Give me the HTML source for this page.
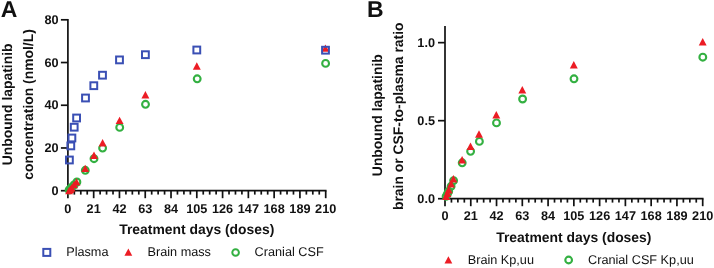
<!DOCTYPE html>
<html><head><meta charset="utf-8"><style>
html,body{margin:0;padding:0;background:#fff;width:714px;height:268px;overflow:hidden}
svg{display:block;filter:blur(0.35px)}
text{font-family:"Liberation Sans",sans-serif;fill:#111;text-rendering:geometricPrecision}
.tk{font-size:12.7px;font-weight:bold}
.at{font-size:13.9px;font-weight:bold}
.pl{font-size:23.0px;font-weight:bold}
.lg{font-size:12.7px}
</style></head><body>
<svg width="714" height="268" viewBox="0 0 714 268">
<text x="0.7" y="17.0" class="pl">A</text>
<text x="367.0" y="17.0" class="pl">B</text>
<line x1="67.9" y1="18.95" x2="67.9" y2="198.20" stroke="#111" stroke-width="1.7"/>
<line x1="67.05" y1="190.7" x2="326.55" y2="190.7" stroke="#111" stroke-width="1.7"/>
<line x1="74.34" y1="190.7" x2="74.34" y2="194.60" stroke="#111" stroke-width="1.7"/>
<line x1="80.79" y1="190.7" x2="80.79" y2="194.60" stroke="#111" stroke-width="1.7"/>
<line x1="87.23" y1="190.7" x2="87.23" y2="194.60" stroke="#111" stroke-width="1.7"/>
<line x1="93.68" y1="190.7" x2="93.68" y2="198.20" stroke="#111" stroke-width="1.7"/>
<line x1="100.12" y1="190.7" x2="100.12" y2="194.60" stroke="#111" stroke-width="1.7"/>
<line x1="106.57" y1="190.7" x2="106.57" y2="194.60" stroke="#111" stroke-width="1.7"/>
<line x1="113.02" y1="190.7" x2="113.02" y2="194.60" stroke="#111" stroke-width="1.7"/>
<line x1="119.46" y1="190.7" x2="119.46" y2="198.20" stroke="#111" stroke-width="1.7"/>
<line x1="125.91" y1="190.7" x2="125.91" y2="194.60" stroke="#111" stroke-width="1.7"/>
<line x1="132.35" y1="190.7" x2="132.35" y2="194.60" stroke="#111" stroke-width="1.7"/>
<line x1="138.79" y1="190.7" x2="138.79" y2="194.60" stroke="#111" stroke-width="1.7"/>
<line x1="145.24" y1="190.7" x2="145.24" y2="198.20" stroke="#111" stroke-width="1.7"/>
<line x1="151.69" y1="190.7" x2="151.69" y2="194.60" stroke="#111" stroke-width="1.7"/>
<line x1="158.13" y1="190.7" x2="158.13" y2="194.60" stroke="#111" stroke-width="1.7"/>
<line x1="164.57" y1="190.7" x2="164.57" y2="194.60" stroke="#111" stroke-width="1.7"/>
<line x1="171.02" y1="190.7" x2="171.02" y2="198.20" stroke="#111" stroke-width="1.7"/>
<line x1="177.46" y1="190.7" x2="177.46" y2="194.60" stroke="#111" stroke-width="1.7"/>
<line x1="183.91" y1="190.7" x2="183.91" y2="194.60" stroke="#111" stroke-width="1.7"/>
<line x1="190.35" y1="190.7" x2="190.35" y2="194.60" stroke="#111" stroke-width="1.7"/>
<line x1="196.80" y1="190.7" x2="196.80" y2="198.20" stroke="#111" stroke-width="1.7"/>
<line x1="203.24" y1="190.7" x2="203.24" y2="194.60" stroke="#111" stroke-width="1.7"/>
<line x1="209.69" y1="190.7" x2="209.69" y2="194.60" stroke="#111" stroke-width="1.7"/>
<line x1="216.13" y1="190.7" x2="216.13" y2="194.60" stroke="#111" stroke-width="1.7"/>
<line x1="222.58" y1="190.7" x2="222.58" y2="198.20" stroke="#111" stroke-width="1.7"/>
<line x1="229.02" y1="190.7" x2="229.02" y2="194.60" stroke="#111" stroke-width="1.7"/>
<line x1="235.47" y1="190.7" x2="235.47" y2="194.60" stroke="#111" stroke-width="1.7"/>
<line x1="241.91" y1="190.7" x2="241.91" y2="194.60" stroke="#111" stroke-width="1.7"/>
<line x1="248.36" y1="190.7" x2="248.36" y2="198.20" stroke="#111" stroke-width="1.7"/>
<line x1="254.80" y1="190.7" x2="254.80" y2="194.60" stroke="#111" stroke-width="1.7"/>
<line x1="261.25" y1="190.7" x2="261.25" y2="194.60" stroke="#111" stroke-width="1.7"/>
<line x1="267.69" y1="190.7" x2="267.69" y2="194.60" stroke="#111" stroke-width="1.7"/>
<line x1="274.14" y1="190.7" x2="274.14" y2="198.20" stroke="#111" stroke-width="1.7"/>
<line x1="280.58" y1="190.7" x2="280.58" y2="194.60" stroke="#111" stroke-width="1.7"/>
<line x1="287.03" y1="190.7" x2="287.03" y2="194.60" stroke="#111" stroke-width="1.7"/>
<line x1="293.47" y1="190.7" x2="293.47" y2="194.60" stroke="#111" stroke-width="1.7"/>
<line x1="299.92" y1="190.7" x2="299.92" y2="198.20" stroke="#111" stroke-width="1.7"/>
<line x1="306.37" y1="190.7" x2="306.37" y2="194.60" stroke="#111" stroke-width="1.7"/>
<line x1="312.81" y1="190.7" x2="312.81" y2="194.60" stroke="#111" stroke-width="1.7"/>
<line x1="319.25" y1="190.7" x2="319.25" y2="194.60" stroke="#111" stroke-width="1.7"/>
<line x1="325.70" y1="190.7" x2="325.70" y2="198.20" stroke="#111" stroke-width="1.7"/>
<text x="67.90" y="212.7" class="tk" text-anchor="middle">0</text>
<text x="93.68" y="212.7" class="tk" text-anchor="middle">21</text>
<text x="119.46" y="212.7" class="tk" text-anchor="middle">42</text>
<text x="145.24" y="212.7" class="tk" text-anchor="middle">63</text>
<text x="171.02" y="212.7" class="tk" text-anchor="middle">84</text>
<text x="196.80" y="212.7" class="tk" text-anchor="middle">105</text>
<text x="222.58" y="212.7" class="tk" text-anchor="middle">126</text>
<text x="248.36" y="212.7" class="tk" text-anchor="middle">147</text>
<text x="274.14" y="212.7" class="tk" text-anchor="middle">168</text>
<text x="299.92" y="212.7" class="tk" text-anchor="middle">189</text>
<text x="325.70" y="212.7" class="tk" text-anchor="middle">210</text>
<line x1="60.90" y1="190.70" x2="67.9" y2="190.70" stroke="#111" stroke-width="1.7"/>
<text x="58.6" y="194.80" class="tk" text-anchor="end">0</text>
<line x1="60.90" y1="147.97" x2="67.9" y2="147.97" stroke="#111" stroke-width="1.7"/>
<text x="58.6" y="152.07" class="tk" text-anchor="end">20</text>
<line x1="60.90" y1="105.25" x2="67.9" y2="105.25" stroke="#111" stroke-width="1.7"/>
<text x="58.6" y="109.35" class="tk" text-anchor="end">40</text>
<line x1="60.90" y1="62.53" x2="67.9" y2="62.53" stroke="#111" stroke-width="1.7"/>
<text x="58.6" y="66.62" class="tk" text-anchor="end">60</text>
<line x1="60.90" y1="19.80" x2="67.9" y2="19.80" stroke="#111" stroke-width="1.7"/>
<text x="58.6" y="23.90" class="tk" text-anchor="end">80</text>
<line x1="445.0" y1="25.95" x2="445.0" y2="206.20" stroke="#111" stroke-width="1.7"/>
<line x1="444.15" y1="198.7" x2="703.55" y2="198.7" stroke="#111" stroke-width="1.7"/>
<line x1="451.44" y1="198.7" x2="451.44" y2="202.60" stroke="#111" stroke-width="1.7"/>
<line x1="457.88" y1="198.7" x2="457.88" y2="202.60" stroke="#111" stroke-width="1.7"/>
<line x1="464.33" y1="198.7" x2="464.33" y2="202.60" stroke="#111" stroke-width="1.7"/>
<line x1="470.77" y1="198.7" x2="470.77" y2="206.20" stroke="#111" stroke-width="1.7"/>
<line x1="477.21" y1="198.7" x2="477.21" y2="202.60" stroke="#111" stroke-width="1.7"/>
<line x1="483.66" y1="198.7" x2="483.66" y2="202.60" stroke="#111" stroke-width="1.7"/>
<line x1="490.10" y1="198.7" x2="490.10" y2="202.60" stroke="#111" stroke-width="1.7"/>
<line x1="496.54" y1="198.7" x2="496.54" y2="206.20" stroke="#111" stroke-width="1.7"/>
<line x1="502.98" y1="198.7" x2="502.98" y2="202.60" stroke="#111" stroke-width="1.7"/>
<line x1="509.43" y1="198.7" x2="509.43" y2="202.60" stroke="#111" stroke-width="1.7"/>
<line x1="515.87" y1="198.7" x2="515.87" y2="202.60" stroke="#111" stroke-width="1.7"/>
<line x1="522.31" y1="198.7" x2="522.31" y2="206.20" stroke="#111" stroke-width="1.7"/>
<line x1="528.75" y1="198.7" x2="528.75" y2="202.60" stroke="#111" stroke-width="1.7"/>
<line x1="535.20" y1="198.7" x2="535.20" y2="202.60" stroke="#111" stroke-width="1.7"/>
<line x1="541.64" y1="198.7" x2="541.64" y2="202.60" stroke="#111" stroke-width="1.7"/>
<line x1="548.08" y1="198.7" x2="548.08" y2="206.20" stroke="#111" stroke-width="1.7"/>
<line x1="554.52" y1="198.7" x2="554.52" y2="202.60" stroke="#111" stroke-width="1.7"/>
<line x1="560.97" y1="198.7" x2="560.97" y2="202.60" stroke="#111" stroke-width="1.7"/>
<line x1="567.41" y1="198.7" x2="567.41" y2="202.60" stroke="#111" stroke-width="1.7"/>
<line x1="573.85" y1="198.7" x2="573.85" y2="206.20" stroke="#111" stroke-width="1.7"/>
<line x1="580.29" y1="198.7" x2="580.29" y2="202.60" stroke="#111" stroke-width="1.7"/>
<line x1="586.74" y1="198.7" x2="586.74" y2="202.60" stroke="#111" stroke-width="1.7"/>
<line x1="593.18" y1="198.7" x2="593.18" y2="202.60" stroke="#111" stroke-width="1.7"/>
<line x1="599.62" y1="198.7" x2="599.62" y2="206.20" stroke="#111" stroke-width="1.7"/>
<line x1="606.06" y1="198.7" x2="606.06" y2="202.60" stroke="#111" stroke-width="1.7"/>
<line x1="612.50" y1="198.7" x2="612.50" y2="202.60" stroke="#111" stroke-width="1.7"/>
<line x1="618.95" y1="198.7" x2="618.95" y2="202.60" stroke="#111" stroke-width="1.7"/>
<line x1="625.39" y1="198.7" x2="625.39" y2="206.20" stroke="#111" stroke-width="1.7"/>
<line x1="631.83" y1="198.7" x2="631.83" y2="202.60" stroke="#111" stroke-width="1.7"/>
<line x1="638.28" y1="198.7" x2="638.28" y2="202.60" stroke="#111" stroke-width="1.7"/>
<line x1="644.72" y1="198.7" x2="644.72" y2="202.60" stroke="#111" stroke-width="1.7"/>
<line x1="651.16" y1="198.7" x2="651.16" y2="206.20" stroke="#111" stroke-width="1.7"/>
<line x1="657.60" y1="198.7" x2="657.60" y2="202.60" stroke="#111" stroke-width="1.7"/>
<line x1="664.05" y1="198.7" x2="664.05" y2="202.60" stroke="#111" stroke-width="1.7"/>
<line x1="670.49" y1="198.7" x2="670.49" y2="202.60" stroke="#111" stroke-width="1.7"/>
<line x1="676.93" y1="198.7" x2="676.93" y2="206.20" stroke="#111" stroke-width="1.7"/>
<line x1="683.37" y1="198.7" x2="683.37" y2="202.60" stroke="#111" stroke-width="1.7"/>
<line x1="689.82" y1="198.7" x2="689.82" y2="202.60" stroke="#111" stroke-width="1.7"/>
<line x1="696.26" y1="198.7" x2="696.26" y2="202.60" stroke="#111" stroke-width="1.7"/>
<line x1="702.70" y1="198.7" x2="702.70" y2="206.20" stroke="#111" stroke-width="1.7"/>
<text x="445.00" y="220.1" class="tk" text-anchor="middle">0</text>
<text x="470.77" y="220.1" class="tk" text-anchor="middle">21</text>
<text x="496.54" y="220.1" class="tk" text-anchor="middle">42</text>
<text x="522.31" y="220.1" class="tk" text-anchor="middle">63</text>
<text x="548.08" y="220.1" class="tk" text-anchor="middle">84</text>
<text x="573.85" y="220.1" class="tk" text-anchor="middle">105</text>
<text x="599.62" y="220.1" class="tk" text-anchor="middle">126</text>
<text x="625.39" y="220.1" class="tk" text-anchor="middle">147</text>
<text x="651.16" y="220.1" class="tk" text-anchor="middle">168</text>
<text x="676.93" y="220.1" class="tk" text-anchor="middle">189</text>
<text x="702.70" y="220.1" class="tk" text-anchor="middle">210</text>
<line x1="438.00" y1="198.70" x2="445.0" y2="198.70" stroke="#111" stroke-width="1.7"/>
<text x="435.0" y="203.20" class="tk" text-anchor="end">0.0</text>
<line x1="438.00" y1="120.67" x2="445.0" y2="120.67" stroke="#111" stroke-width="1.7"/>
<text x="435.0" y="125.17" class="tk" text-anchor="end">0.5</text>
<line x1="438.00" y1="42.65" x2="445.0" y2="42.65" stroke="#111" stroke-width="1.7"/>
<text x="435.0" y="47.15" class="tk" text-anchor="end">1.0</text>
<text x="196.80" y="233.9" class="at" text-anchor="middle">Treatment days (doses)</text>
<text x="573.85" y="242.0" class="at" text-anchor="middle">Treatment days (doses)</text>
<text transform="translate(12.1,104.4) rotate(-90)" class="at" text-anchor="middle">Unbound lapatinib</text>
<text transform="translate(32.6,104.4) rotate(-90)" class="at" text-anchor="middle">concentration (nmol/L)</text>
<text transform="translate(382.1,115.2) rotate(-90)" class="at" text-anchor="middle">Unbound lapatinib</text>
<text transform="translate(403.1,116.3) rotate(-90)" class="at" text-anchor="middle">brain or CSF-to-plasma ratio</text>
<circle cx="69.10" cy="190.00" r="3.40" fill="none" stroke="#33b041" stroke-width="2.1"/>
<circle cx="70.40" cy="188.80" r="3.40" fill="none" stroke="#33b041" stroke-width="2.1"/>
<circle cx="71.60" cy="187.50" r="3.40" fill="none" stroke="#33b041" stroke-width="2.1"/>
<circle cx="74.00" cy="185.00" r="3.40" fill="none" stroke="#33b041" stroke-width="2.1"/>
<circle cx="76.90" cy="182.00" r="3.40" fill="none" stroke="#33b041" stroke-width="2.1"/>
<circle cx="85.30" cy="170.30" r="3.40" fill="none" stroke="#33b041" stroke-width="2.1"/>
<circle cx="94.00" cy="158.70" r="3.40" fill="none" stroke="#33b041" stroke-width="2.1"/>
<circle cx="102.60" cy="148.10" r="3.40" fill="none" stroke="#33b041" stroke-width="2.1"/>
<circle cx="119.70" cy="127.40" r="3.40" fill="none" stroke="#33b041" stroke-width="2.1"/>
<circle cx="145.50" cy="104.30" r="3.40" fill="none" stroke="#33b041" stroke-width="2.1"/>
<circle cx="197.20" cy="78.80" r="3.40" fill="none" stroke="#33b041" stroke-width="2.1"/>
<circle cx="325.60" cy="63.40" r="3.40" fill="none" stroke="#33b041" stroke-width="2.1"/>
<path d="M69.10,186.90L73.05,194.30L65.15,194.30Z" fill="#ec1c24"/>
<path d="M70.40,185.70L74.35,193.10L66.45,193.10Z" fill="#ec1c24"/>
<path d="M71.60,184.20L75.55,191.60L67.65,191.60Z" fill="#ec1c24"/>
<path d="M74.00,180.90L77.95,188.30L70.05,188.30Z" fill="#ec1c24"/>
<path d="M76.50,178.20L80.45,185.60L72.55,185.60Z" fill="#ec1c24"/>
<path d="M85.20,164.70L89.15,172.10L81.25,172.10Z" fill="#ec1c24"/>
<path d="M94.00,151.60L97.95,159.00L90.05,159.00Z" fill="#ec1c24"/>
<path d="M102.60,139.00L106.55,146.40L98.65,146.40Z" fill="#ec1c24"/>
<path d="M119.60,116.70L123.55,124.10L115.65,124.10Z" fill="#ec1c24"/>
<path d="M145.40,91.10L149.35,98.50L141.45,98.50Z" fill="#ec1c24"/>
<path d="M196.80,62.30L200.75,69.70L192.85,69.70Z" fill="#ec1c24"/>
<path d="M325.40,44.40L329.35,51.80L321.45,51.80Z" fill="#ec1c24"/>
<rect x="66.00" y="156.60" width="6.80" height="6.80" fill="none" stroke="#3a4fb4" stroke-width="2.0"/>
<rect x="67.40" y="142.50" width="6.80" height="6.80" fill="none" stroke="#3a4fb4" stroke-width="2.0"/>
<rect x="68.50" y="134.60" width="6.80" height="6.80" fill="none" stroke="#3a4fb4" stroke-width="2.0"/>
<rect x="70.80" y="123.80" width="6.80" height="6.80" fill="none" stroke="#3a4fb4" stroke-width="2.0"/>
<rect x="73.20" y="114.60" width="6.80" height="6.80" fill="none" stroke="#3a4fb4" stroke-width="2.0"/>
<rect x="82.10" y="94.60" width="6.80" height="6.80" fill="none" stroke="#3a4fb4" stroke-width="2.0"/>
<rect x="90.40" y="82.30" width="6.80" height="6.80" fill="none" stroke="#3a4fb4" stroke-width="2.0"/>
<rect x="99.10" y="71.80" width="6.80" height="6.80" fill="none" stroke="#3a4fb4" stroke-width="2.0"/>
<rect x="116.10" y="56.50" width="6.80" height="6.80" fill="none" stroke="#3a4fb4" stroke-width="2.0"/>
<rect x="142.00" y="51.30" width="6.80" height="6.80" fill="none" stroke="#3a4fb4" stroke-width="2.0"/>
<rect x="193.40" y="46.60" width="6.80" height="6.80" fill="none" stroke="#3a4fb4" stroke-width="2.0"/>
<rect x="322.10" y="46.80" width="6.80" height="6.80" fill="none" stroke="#3a4fb4" stroke-width="2.0"/>
<circle cx="446.10" cy="196.30" r="3.40" fill="none" stroke="#33b041" stroke-width="2.1"/>
<circle cx="447.40" cy="194.00" r="3.40" fill="none" stroke="#33b041" stroke-width="2.1"/>
<circle cx="448.70" cy="191.30" r="3.40" fill="none" stroke="#33b041" stroke-width="2.1"/>
<circle cx="451.10" cy="186.30" r="3.40" fill="none" stroke="#33b041" stroke-width="2.1"/>
<circle cx="453.60" cy="180.60" r="3.40" fill="none" stroke="#33b041" stroke-width="2.1"/>
<circle cx="462.20" cy="162.80" r="3.40" fill="none" stroke="#33b041" stroke-width="2.1"/>
<circle cx="470.60" cy="151.30" r="3.40" fill="none" stroke="#33b041" stroke-width="2.1"/>
<circle cx="479.40" cy="141.40" r="3.40" fill="none" stroke="#33b041" stroke-width="2.1"/>
<circle cx="496.50" cy="122.90" r="3.40" fill="none" stroke="#33b041" stroke-width="2.1"/>
<circle cx="522.60" cy="99.00" r="3.40" fill="none" stroke="#33b041" stroke-width="2.1"/>
<circle cx="574.00" cy="78.80" r="3.40" fill="none" stroke="#33b041" stroke-width="2.1"/>
<circle cx="702.80" cy="57.20" r="3.40" fill="none" stroke="#33b041" stroke-width="2.1"/>
<path d="M446.10,192.60L450.05,200.00L442.15,200.00Z" fill="#ec1c24"/>
<path d="M447.40,189.60L451.35,197.00L443.45,197.00Z" fill="#ec1c24"/>
<path d="M448.70,186.00L452.65,193.40L444.75,193.40Z" fill="#ec1c24"/>
<path d="M451.10,180.00L455.05,187.40L447.15,187.40Z" fill="#ec1c24"/>
<path d="M453.40,175.10L457.35,182.50L449.45,182.50Z" fill="#ec1c24"/>
<path d="M462.10,156.00L466.05,163.40L458.15,163.40Z" fill="#ec1c24"/>
<path d="M470.50,142.60L474.45,150.00L466.55,150.00Z" fill="#ec1c24"/>
<path d="M479.00,130.30L482.95,137.70L475.05,137.70Z" fill="#ec1c24"/>
<path d="M496.30,111.10L500.25,118.50L492.35,118.50Z" fill="#ec1c24"/>
<path d="M522.30,86.10L526.25,93.50L518.35,93.50Z" fill="#ec1c24"/>
<path d="M573.80,61.10L577.75,68.50L569.85,68.50Z" fill="#ec1c24"/>
<path d="M702.70,38.10L706.65,45.50L698.75,45.50Z" fill="#ec1c24"/>
<rect x="43.30" y="248.90" width="7.00" height="7.00" fill="none" stroke="#3a4fb4" stroke-width="2.0"/>
<text x="66.2" y="256.4" class="lg">Plasma</text>
<path d="M128.35,248.50L132.25,255.70L124.45,255.70Z" fill="#ec1c24"/>
<text x="147.5" y="256.4" class="lg">Brain mass</text>
<circle cx="235.60" cy="252.45" r="3.30" fill="none" stroke="#33b041" stroke-width="2.0"/>
<text x="254.6" y="256.4" class="lg">Cranial CSF</text>
<path d="M448.40,256.20L452.30,263.60L444.50,263.60Z" fill="#ec1c24"/>
<text x="467.7" y="263.9" class="lg">Brain Kp,uu</text>
<circle cx="568.65" cy="260.00" r="3.35" fill="none" stroke="#33b041" stroke-width="2.1"/>
<text x="588.0" y="263.9" class="lg">Cranial CSF Kp,uu</text>
</svg>
</body></html>
